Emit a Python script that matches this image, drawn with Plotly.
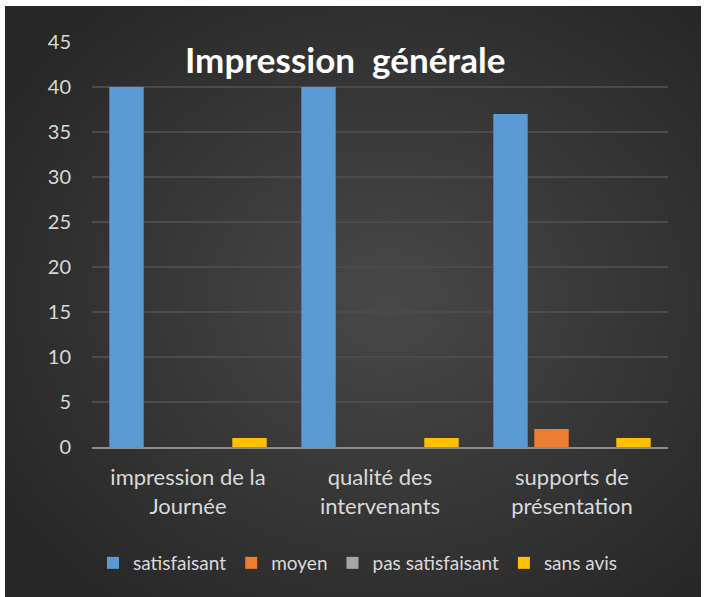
import base64
import plotly.graph_objects as go

categories = ["impression de la<br>Journée", "qualité des<br>intervenants", "supports de<br>présentation"]
series_names = ["satisfaisant", "moyen", "pas satisfaisant", "sans avis"]
satisfaisant = [40, 40, 37]
moyen = [0, 0, 2]
pas_satisfaisant = [0, 0, 0]
sans_avis = [1, 1, 1]
y_ticks = [0, 5, 10, 15, 20, 25, 30, 35, 40, 45]
title_text = "Impression\u00a0 générale"

colors = ["#5b9bd5", "#ed7d31", "#a5a5a5", "#ffc000"]
values = [satisfaisant, moyen, pas_satisfaisant, sans_avis]

W, H = 705, 597
L, R, T, B = 92, 37, 42, 150
pw, ph = W - L - R, H - T - B

svg = f'''<svg xmlns="http://www.w3.org/2000/svg" width="696" height="591" viewBox="0 0 696 591" preserveAspectRatio="none">
<defs><radialGradient id="g" cx="0.55" cy="0.5" r="0.65">
<stop offset="0" stop-color="#484848"/><stop offset="1" stop-color="#272727"/></radialGradient></defs>
<rect width="696" height="591" fill="url(#g)"/></svg>'''
src = "data:image/svg+xml;base64," + base64.b64encode(svg.encode()).decode()

fig = go.Figure()
for name, vals, c in zip(series_names, values, colors):
    fig.add_trace(go.Bar(x=categories, y=vals, name=name, marker=dict(color=c, line=dict(width=0))))

fig.update_layout(
    width=W, height=H,
    margin=dict(l=L, r=R, t=T, b=B, pad=0),
    paper_bgcolor="white",
    plot_bgcolor="rgba(0,0,0,0)",
    barmode="group",
    bargap=0.146,
    bargroupgap=0.16,
    font=dict(family="Lato, Open Sans, sans-serif", color="#d9d9d9"),
    showlegend=True,
    legend=dict(orientation="h", x=(358 - L) / pw, xanchor="center", y=(ph - (563 - T)) / ph, yanchor="middle",
                font=dict(size=19, color="#d9d9d9"), bgcolor="rgba(0,0,0,0)",
                itemwidth=30, tracegroupgap=0),
    images=[dict(source=src, xref="paper", yref="paper",
                 x=(5 - L) / pw, y=(T + ph - 6) / ph,
                 sizex=696 / pw, sizey=591 / ph,
                 sizing="stretch", layer="below", xanchor="left", yanchor="top")],
    annotations=[dict(text=f"<b>{title_text}</b>", x=(345 - L) / pw, y=(T + ph - 59) / ph,
                      xref="paper", yref="paper", showarrow=False,
                      font=dict(size=35, color="white", family="Lato, Open Sans, sans-serif"),
                      xanchor="center", yanchor="middle")],
)
fig.update_yaxes(range=[0, 45], tickvals=y_ticks, showgrid=True, gridcolor="#4b4b4b", gridwidth=2,
                 zeroline=False, showline=False, tickfont=dict(size=20, color="#d9d9d9"),
                 ticklabelstandoff=20)
fig.update_xaxes(showline=True, linecolor="#8c8c8c", linewidth=2, showgrid=False,
                 tickfont=dict(size=22, color="#d9d9d9"), ticklabelstandoff=10)

fig.write_html("out.html", config={"displayModeBar": False},
               post_script="document.body.style.margin='0px';")
